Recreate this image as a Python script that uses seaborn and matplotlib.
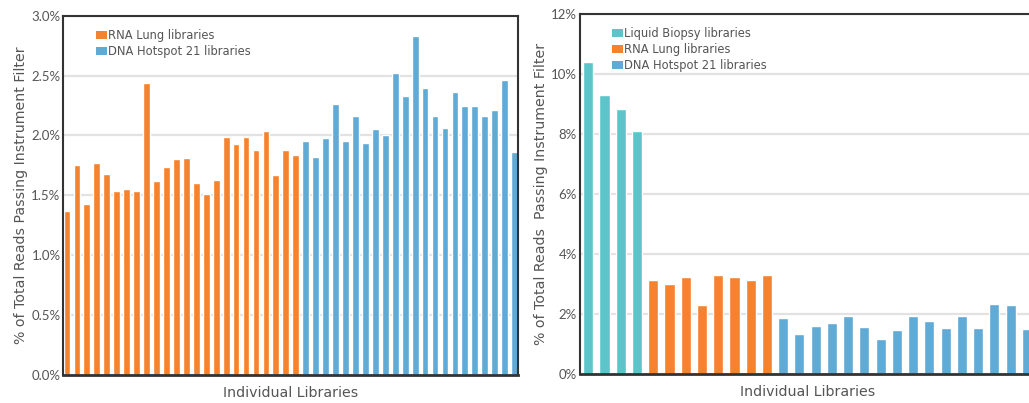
import pandas as pd
import seaborn as sns
import matplotlib.pyplot as plt
from matplotlib.patches import Patch

# values (% of total reads passing instrument filter)
left_rna = [1.37, 1.75, 1.43, 1.77, 1.68, 1.54, 1.55, 1.54, 2.44, 1.62, 1.74, 1.80,
            1.81, 1.60, 1.51, 1.63, 1.99, 1.93, 1.99, 1.88, 2.04, 1.67, 1.88, 1.84]
left_dna = [1.95, 1.82, 1.98, 2.26, 1.95, 2.16, 1.94, 2.05, 2.00, 2.52, 2.33, 2.83,
            2.40, 2.16, 2.06, 2.36, 2.25, 2.25, 2.16, 2.21, 2.46, 1.86]

right_liquid = [10.40, 9.30, 8.84, 8.10]
right_rna = [3.13, 3.02, 3.24, 2.31, 3.30, 3.24, 3.13, 3.30]
right_dna = [1.88, 1.34, 1.61, 1.71, 1.94, 1.58, 1.18, 1.48, 1.94, 1.78, 1.54, 1.94,
             1.54, 2.34, 2.31, 1.51]

groups = {
    "Liquid Biopsy libraries": "#5BC5C9",
    "RNA Lung libraries": "#F5822C",
    "DNA Hotspot 21 libraries": "#60AAD6",
}

TEXT = "#555555"
SPINE = "#333333"


def make_frame(parts):
    rows = []
    for name, vals in parts:
        for v in vals:
            rows.append({"group": name, "value": v})
    df = pd.DataFrame(rows)
    df["lib"] = range(len(df))
    return df


def draw(ax, df, width, ylim, yticks, fmt, legend_names, ylabel, spines):
    sns.barplot(data=df, x="lib", y="value", hue="group", palette=groups,
                dodge=False, width=width, saturation=1, legend=False, ax=ax,
                zorder=2)
    ax.set_ylim(*ylim)
    ax.set_yticks(yticks)
    ax.set_yticklabels([fmt % t for t in yticks], family=["Lato", "DejaVu Sans"])
    ax.set_xticks([])
    ax.yaxis.grid(True, color="#e2e2e2", linewidth=1.6)
    ax.xaxis.grid(False)
    ax.set_axisbelow(True)
    ax.tick_params(axis="y", length=0, pad=2, labelsize=9.5, labelcolor=TEXT)
    ax.set_xlabel("Individual Libraries", fontsize=10.2, color=TEXT, labelpad=8)
    ax.set_ylabel(ylabel, fontsize=10.2, color=TEXT, labelpad=2)
    for side, sp in ax.spines.items():
        sp.set_visible(side in spines)
        sp.set_color(SPINE)
        sp.set_linewidth(1.5)
        sp.set_zorder(5)
    ax.spines["bottom"].set_linewidth(2)
    handles = [Patch(facecolor=groups[n], edgecolor="none", label=n) for n in legend_names]
    ax.legend(handles=handles, loc="upper left", bbox_to_anchor=(0.072, 0.963),
              frameon=False, fontsize=8.3, labelcolor=TEXT, handlelength=0.93,
              handleheight=0.72, handletextpad=0.12, labelspacing=0.25, borderpad=0,
              borderaxespad=0)


sns.set_theme(style="white")
plt.rcParams["font.family"] = ["DejaVu Sans"]

fig = plt.figure(figsize=(10.29, 4.03), dpi=100)
ax1 = fig.add_axes([63.3 / 1029, 28 / 403, 455 / 1029, 359.3 / 403])
ax2 = fig.add_axes([579.5 / 1029, 28.7 / 403, 455.5 / 1029, 360.3 / 403])

df_left = make_frame([("RNA Lung libraries", left_rna),
                      ("DNA Hotspot 21 libraries", left_dna)])
draw(ax1, df_left, 0.68, (0, 3.0), [0, 0.5, 1.0, 1.5, 2.0, 2.5, 3.0], "%.1f%%",
     ["RNA Lung libraries", "DNA Hotspot 21 libraries"],
     "% of Total Reads Passing Instrument Filter",
     ["left", "right", "top", "bottom"])
ax1.set_xlim(-0.37, len(df_left) - 0.63)

df_right = make_frame([("Liquid Biopsy libraries", right_liquid),
                       ("RNA Lung libraries", right_rna),
                       ("DNA Hotspot 21 libraries", right_dna)])
draw(ax2, df_right, 0.62, (0, 12), [0, 2, 4, 6, 8, 10, 12], "%d%%",
     list(groups.keys()),
     "% of Total Reads  Passing Instrument Filter",
     ["left", "top", "bottom"])
ax2.set_xlim(-0.54, len(df_right) - 0.5)

fig.savefig("out.png", dpi=100)
